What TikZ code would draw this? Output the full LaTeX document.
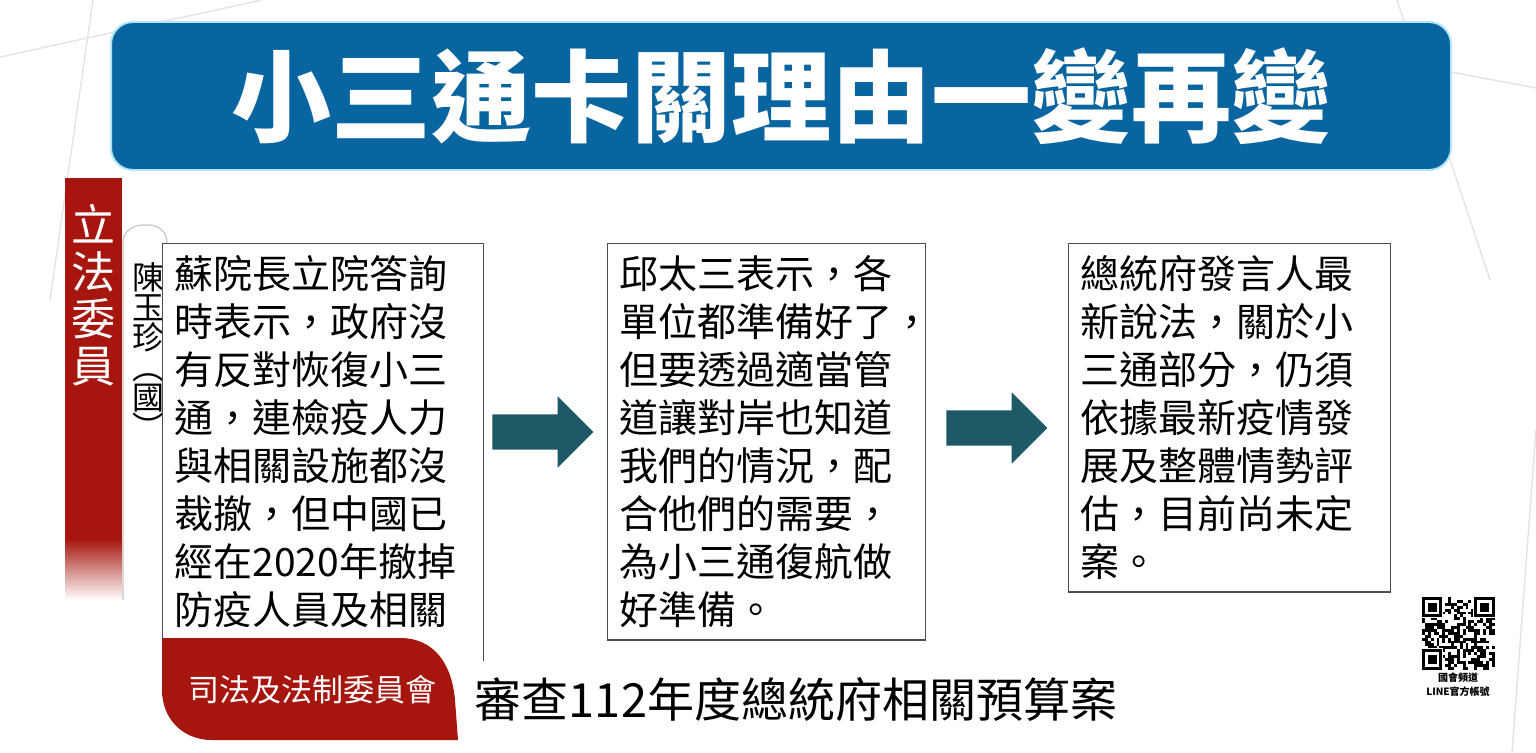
\documentclass[tikz,border=0pt]{standalone}
\usepackage{fontspec}
\setmainfont{Noto Sans CJK TC}
\usepackage{tikz}
\usetikzlibrary{shapes.arrows}

\definecolor{titleblue}{RGB}{8,101,160}
\definecolor{lawred}{RGB}{166,22,14}
\definecolor{arrowteal}{RGB}{30,90,102}

\begin{document}
\begin{tikzpicture}[x=1pt,y=-1pt,
  every node/.style={inner sep=0pt},
  bgline/.style={gray!22,line width=1.4pt},
  textbox/.style={draw=black!70,line width=1.3pt,fill=white,anchor=north west,
    inner sep=12pt,align=left,font=\fontsize{39}{48}\selectfont},
  flow/.style={single arrow,fill=arrowteal,inner xsep=0pt,inner ysep=17.5pt,
    minimum height=101pt,single arrow head extend=18pt,single arrow tip angle=90}]
  \useasboundingbox (0,0) rectangle (1536,752);
  \fill[white] (0,0) rectangle (1536,752);

  % faint lines in the back
  \draw[bgline] (0,57) -- (262,0);
  \draw[bgline] (93,0) -- (50,300);
  \draw[bgline] (1397,0) -- (1490,280);
  \draw[bgline] (1440,70) -- (1536,88);
  \draw[bgline] (1536,430) -- (1512,752);

  % title
  \node (title) [fill=titleblue,draw=cyan!30,line width=2pt,rounded corners=22pt,
    minimum width=1340pt,minimum height=148pt,text=white,
    font=\fontsize{100}{100}\bfseries] at (781,96) {小三通卡關理由一變再變};

  % side bar with member name
  \fill[lawred] (65,178) rectangle (122,540);
  \shade[top color=lawred,bottom color=white] (65,539) rectangle (122,600);
  \node (member) [text=white,align=center,font=\fontsize{44}{47}\selectfont]
    at (93,295) {立\\法\\委\\員};
  \filldraw[fill=white,draw=gray!45,line width=1.2pt] (123,600) -- (123,243)
    .. controls (123,232) and (132,225) .. (143,225) -- (148,225)
    .. controls (159,225) and (167,232) .. (167,243) -- (167,600);
  \node (name) [align=center,font=\fontsize{32}{30}\selectfont]
    at (148,351) {陳\\玉\\珍\\︵\\國\\︶};

  % the three statements
  \node (box1) [textbox,text width=297pt] at (162,243)
    {蘇院長立院答詢\\時表示，政府沒\\有反對恢復小三\\通，連檢疫人力\\與相關設施都沒\\裁撤，但中國已\\經在2020年撤掉\\防疫人員及相關\\設施};
  \node (box2) [textbox,text width=294pt] at (607,243)
    {邱太三表示，各\\單位都準備好了，\\但要透過適當管\\道讓對岸也知道\\我們的情況，配\\合他們的需要，\\為小三通復航做\\好準備。};
  \node (box3) [textbox,text width=298pt] at (1068,243)
    {總統府發言人最\\新說法，關於小\\三通部分，仍須\\依據最新疫情發\\展及整體情勢評\\估，目前尚未定\\案。};
  \node (arr1) [flow] at (534,432) {};
  \node (arr2) [flow] at (988,428) {};

  % bottom strip
  \fill[white] (150,661) rectangle (500,752);
  \fill[lawred] (162,638) -- (400,638) .. controls (435,638) and (452,665) .. (455,700)
    -- (458,740) -- (212,740) .. controls (182,740) and (162,718) .. (162,690) -- cycle;
  \node (committee) [text=white,font=\fontsize{31}{31}\selectfont] at (312,690) {司法及法制委員會};
  \node (agenda) [font=\fontsize{47}{47}\selectfont] at (796,700) {審查112年度總統府相關預算案};

  % qr code
  \pgfmathsetseed{11}
  \foreach \i in {0,...,24}{
    \foreach \j in {0,...,24}{
      \pgfmathtruncatemacro\qbit{rnd<0.5}
      \ifnum\qbit=1 \fill (1422+\i*2.9,597+\j*2.9) rectangle ++(2.9,2.9); \fi
    }
  }
  \foreach \cx/\cy in {0/0,18/0,0/18}{
    \fill[white] (1422+\cx*2.9-1,597+\cy*2.9-1) rectangle ++(7*2.9+2,7*2.9+2);
    \fill (1422+\cx*2.9,597+\cy*2.9) rectangle ++(7*2.9,7*2.9);
    \fill[white] (1422+\cx*2.9+2.9,597+\cy*2.9+2.9) rectangle ++(5*2.9,5*2.9);
    \fill (1422+\cx*2.9+5.8,597+\cy*2.9+5.8) rectangle ++(3*2.9,3*2.9);
  }
  \node (qrtop) [font=\fontsize{10}{10}\bfseries] at (1458,678) {國會頻道};
  \node (qrbot) [font=\fontsize{10}{10}\bfseries] at (1458,692) {LINE官方帳號};
\end{tikzpicture}
\end{document}
